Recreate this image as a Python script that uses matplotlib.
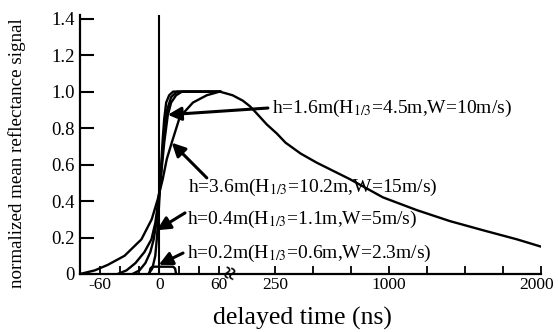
import numpy as np
import matplotlib
matplotlib.use("Agg")
import matplotlib.pyplot as plt
import matplotlib.transforms as mtransforms

plt.rcParams['font.family'] = ['Liberation Serif', 'DejaVu Serif']
plt.rcParams['mathtext.fontset'] = 'stix'

# data (delayed time in ns, normalized signal)
t_02 = [-11, -7, -4, -2.5, -1, 0.5, 2, 3.5, 5, 7, 10, 14, 62]
v_02 = [0, 0.03, 0.1, 0.19, 0.3, 0.45, 0.6, 0.74, 0.85, 0.94, 0.98, 1.0, 1.0]

t_04 = [-27, -20, -14, -9, -5.6, -3, -1, 1, 3, 5, 8, 12, 18, 62]
v_04 = [0, 0.02, 0.06, 0.12, 0.19, 0.28, 0.37, 0.5, 0.64, 0.78, 0.9, 0.97, 1.0, 1.0]

t_16 = [-42, -33, -24, -15, -7.9, -4, -1, 2, 5, 8.6, 12, 17, 23, 62]
v_16 = [0, 0.02, 0.06, 0.12, 0.19, 0.28, 0.4, 0.55, 0.72, 0.87, 0.94, 0.98, 1.0, 1.0]

t_36 = [-80, -65, -52, -35, -18, -7.6, -1.5, 3.5, 7.6, 12.6, 20.7, 34, 48, 61,
        74, 112, 142, 172, 215, 263, 320, 420, 526, 743, 961, 1184, 1401, 1618, 1842, 2000]
v_36 = [0, 0.02, 0.05, 0.1, 0.19, 0.3, 0.41, 0.52, 0.63, 0.72, 0.86, 0.94, 0.98, 1.0,
        0.98, 0.95, 0.92, 0.88, 0.82, 0.77, 0.72, 0.66, 0.61, 0.52, 0.42, 0.35, 0.29, 0.24, 0.19, 0.15]

t_pulse = [-10, -9, -7, 14, 16, 17]
v_pulse = [0, 0.03, 0.04, 0.04, 0.03, 0]

xticks_major = [-60, 0, 60, 250, 1000, 2000]
xticks_minor = [-40, -20, 20, 40, 500, 750, 1250, 1500, 1750]
yticks = [0, 0.2, 0.4, 0.6, 0.8, 1.0, 1.2, 1.4]
ylabels = ["0", "0.2", "0.4", "0.6", "0.8", "1.0", "1.2", "1.4"]

labels = ["h=1.6m(H$_{1/3}$=4.5m,W=10m/s)",
          "h=3.6m(H$_{1/3}$=10.2m,W=15m/s)",
          "h=0.4m(H$_{1/3}$=1.1m,W=5m/s)",
          "h=0.2m(H$_{1/3}$=0.6m,W=2.3m/s)"]

# broken time axis: linear up to 76 ns, compressed gap, then linear 250-2000 ns
B = 0.234
R = 0.1535
U250 = 76 + (250 - 76) * B


def forward(t):
    t = np.asarray(t, dtype=float)
    return np.where(t <= 76, t, np.where(t <= 250, 76 + (t - 76) * B, U250 + (t - 250) * R))


def inverse(u):
    u = np.asarray(u, dtype=float)
    return np.where(u <= 76, u, np.where(u <= U250, 76 + (u - 76) / B, 250 + (u - U250) / R))


fig = plt.figure(figsize=(5.59, 3.32), dpi=100)
ax = fig.add_axes([80 / 559, 58 / 332, 461 / 559, 259 / 332])
ax.set_xscale('function', functions=(forward, inverse))

lw = 1.7
for t, v in [(t_02, v_02), (t_04, v_04), (t_16, v_16), (t_36, v_36), (t_pulse, v_pulse)]:
    ax.plot(t, v, color='black', lw=lw, solid_capstyle='round', solid_joinstyle='round')
ax.axvline(0, color='black', lw=1.5)

ax.set_xlim(-80, 2000)
ax.set_ylim(0, 1.42)
ax.spines['top'].set_visible(False)
ax.spines['right'].set_visible(False)
ax.spines['left'].set_linewidth(1.6)
ax.spines['bottom'].set_linewidth(1.6)

ax.set_xticks(xticks_major)
ax.set_xticklabels([str(x) for x in xticks_major])
ax.set_xticks(xticks_minor, minor=True)
ax.set_yticks(yticks)
ax.set_yticklabels(ylabels)
ax.tick_params(axis='x', which='both', direction='in', length=6, width=1.3, labelsize=12.5, pad=2)
ax.tick_params(axis='y', direction='in', length=10, width=1.5, labelsize=13.5, pad=4)
# nudge the last label a little left so it stays inside the picture
last = ax.xaxis.get_major_ticks()[-1].label1
last.set_transform(last.get_transform() + mtransforms.ScaledTranslation(-4 / 100, 0, fig.dpi_scale_trans))

# axis break mark
ax.text(74, 0.005, '≈', rotation=75, ha='center', va='center', fontsize=17, fontweight='bold')

# annotations
arrow = dict(arrowstyle='-|>', color='black', lw=2.2, mutation_scale=20, shrinkA=0, shrinkB=0)
ax.annotate('', xy=(8.6, 0.873), xytext=(220, 0.91), arrowprops=arrow)
ax.annotate('', xy=(12.6, 0.72), xytext=(48, 0.527), arrowprops=arrow)
ax.annotate('', xy=(-2.5, 0.24), xytext=(26, 0.335), arrowprops=arrow)
ax.annotate('', xy=(-0.5, 0.05), xytext=(24, 0.115), arrowprops=arrow)

fs = 14
ax.text(237, 0.91, labels[0], fontsize=fs, va='center', ha='left')
ax.text(29, 0.472, labels[1], fontsize=fs, va='center', ha='left')
ax.text(28, 0.297, labels[2], fontsize=fs, va='center', ha='left')
ax.text(28, 0.115, labels[3], fontsize=fs, va='center', ha='left')

fig.text(302 / 559, 1 - 318 / 332, 'delayed time (ns)', fontsize=18.5, ha='center', va='center')
fig.text(17 / 559, 1 - 153 / 332, 'normalized mean reflectance signal', fontsize=13.7,
         rotation=90, ha='center', va='center')

fig.savefig('out.png', dpi=100)
